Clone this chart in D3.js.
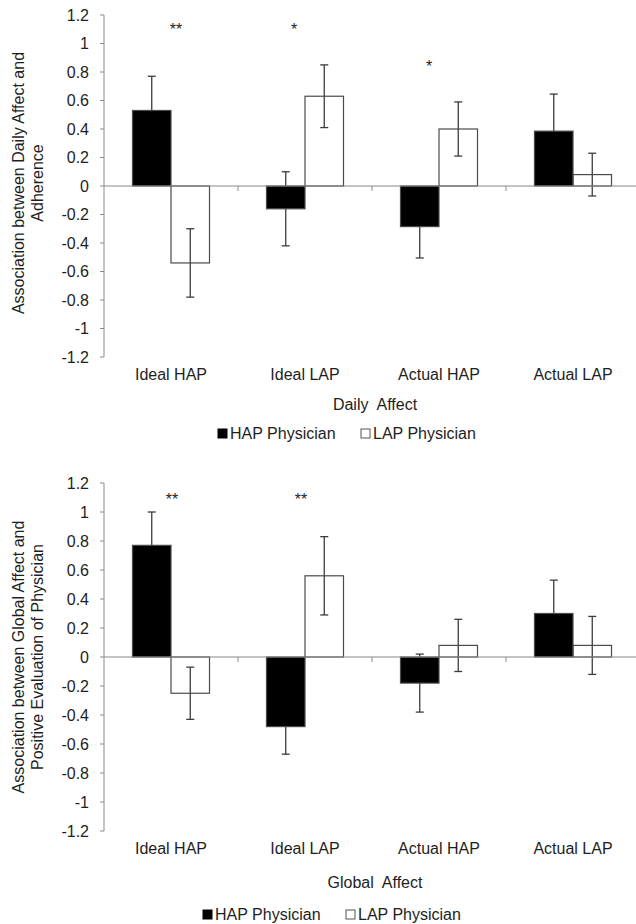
<!DOCTYPE html>
<html>
<head>
<meta charset="utf-8">
<script src="https://cdn.jsdelivr.net/npm/d3@7"></script>
<style>
  body { margin: 0; background: #fff; }
  text { font-family: 'Liberation Sans', Arial, sans-serif; fill: #1e1e1e; }
</style>
</head>
<body>
<div id="app"></div>
<script>
// values
const categories = ['Ideal HAP', 'Ideal LAP', 'Actual HAP', 'Actual LAP'];
const seriesNames = ['HAP Physician', 'LAP Physician'];
const yTicks = [1.2, 1, 0.8, 0.6, 0.4, 0.2, 0, -0.2, -0.4, -0.6, -0.8, -1, -1.2];

const dailyHap = [0.53, -0.16, -0.285, 0.385];
const dailyHapErr = [0.24, 0.26, 0.22, 0.26];
const dailyLap = [-0.54, 0.63, 0.40, 0.08];
const dailyLapErr = [0.24, 0.22, 0.19, 0.15];
const dailyStars = ['**', '*', '*', ''];
const dailyStarLevel = [1.12, 1.12, 0.86, null];

const globalHap = [0.77, -0.48, -0.18, 0.30];
const globalHapErr = [0.23, 0.19, 0.20, 0.23];
const globalLap = [-0.25, 0.56, 0.08, 0.08];
const globalLapErr = [0.18, 0.27, 0.18, 0.20];
const globalStars = ['**', '**', '', ''];
const globalStarLevel = [1.11, 1.11, null, null];

const svg = d3.select('#app').append('svg')
    .attr('width', 636)
    .attr('height', 924);

const axisColor = '#8a8a8a';
const barStroke = '#4a4a4a';
const errColor = '#3c3c3c';

const x = d3.scaleBand()
    .domain(categories)
    .range([104, 640])
    .paddingInner(0)
    .paddingOuter(0);

const xSub = d3.scaleBand()
    .domain(seriesNames)
    .range([0, x.bandwidth()])
    .paddingInner(0)
    .paddingOuter(0.74);

function drawPanel(p) {
  const y = d3.scaleLinear().domain([-1.2, 1.2]).range([p.bottom, p.top]);
  const g = svg.append('g');

  const rows = categories.map((c, i) => ({
    cat: c,
    bars: [
      { key: seriesNames[0], value: p.hap[i], err: p.hapErr[i], cat: c },
      { key: seriesNames[1], value: p.lap[i], err: p.lapErr[i], cat: c }
    ]
  }));

  // y axis
  g.append('line')
      .attr('x1', x.range()[0]).attr('x2', x.range()[0])
      .attr('y1', y(1.2)).attr('y2', y(-1.2))
      .attr('stroke', axisColor).attr('stroke-width', 1);

  const yAxis = g.append('g')
      .attr('transform', `translate(${x.range()[0]},0)`);
  yAxis.selectAll('line')
    .data(yTicks)
    .enter().append('line')
      .attr('x1', -4).attr('x2', 0)
      .attr('y1', d => y(d)).attr('y2', d => y(d))
      .attr('stroke', axisColor);
  yAxis.selectAll('text')
    .data(yTicks)
    .enter().append('text')
      .attr('x', -15)
      .attr('y', d => y(d))
      .attr('dy', '0.36em')
      .attr('text-anchor', 'end')
      .attr('font-size', 16)
      .text(d => d3.format('')(d).replace('\u2212', '-'));

  const grp = g.selectAll('.cat')
    .data(rows)
    .enter().append('g')
      .attr('class', 'cat')
      .attr('transform', d => `translate(${x(d.cat)},0)`);

  // error bars first, so black bars hide their inner half
  const eb = grp.selectAll('.err')
    .data(d => d.bars)
    .enter().append('g')
      .attr('class', 'err')
      .attr('transform', d => `translate(${xSub(d.key) + xSub.bandwidth() / 2},0)`)
      .attr('stroke', errColor)
      .attr('stroke-width', 1.3);
  eb.append('line')
      .attr('y1', d => y(d.value - d.err)).attr('y2', d => y(d.value + d.err));
  eb.append('line')
      .attr('x1', -4).attr('x2', 4)
      .attr('y1', d => y(d.value + d.err)).attr('y2', d => y(d.value + d.err));
  eb.append('line')
      .attr('x1', -4).attr('x2', 4)
      .attr('y1', d => y(d.value - d.err)).attr('y2', d => y(d.value - d.err));

  // bars (LAP bars are hollow)
  grp.selectAll('rect')
    .data(d => d.bars)
    .enter().append('rect')
      .attr('x', d => xSub(d.key))
      .attr('y', d => y(Math.max(0, d.value)))
      .attr('width', xSub.bandwidth())
      .attr('height', d => Math.abs(y(d.value) - y(0)))
      .attr('fill', d => d.key === seriesNames[0] ? '#000' : 'none')
      .attr('stroke', barStroke)
      .attr('stroke-width', 1.2);

  // zero line + category ticks
  g.append('line')
      .attr('x1', x.range()[0]).attr('x2', 636)
      .attr('y1', y(0)).attr('y2', y(0))
      .attr('stroke', axisColor).attr('stroke-width', 1.2);

  g.selectAll('.xtick')
    .data(categories.slice(1))
    .enter().append('line')
      .attr('class', 'xtick')
      .attr('x1', d => x(d)).attr('x2', d => x(d))
      .attr('y1', y(0)).attr('y2', y(0) + 5)
      .attr('stroke', axisColor);

  // significance stars (hand-placed in the original, hence the nudges)
  g.selectAll('.star')
    .data(categories.map((c, i) => ({ cat: c, s: p.stars[i], lv: p.starLevel[i], dx: p.starNudge[i] })).filter(d => d.s))
    .enter().append('text')
      .attr('class', 'star')
      .attr('x', d => x(d.cat) + x.bandwidth() / 2 + d.dx)
      .attr('y', d => y(d.lv))
      .attr('dy', '0.55em')
      .attr('text-anchor', 'middle')
      .attr('font-size', 16)
      .text(d => d.s);

  // category labels
  g.selectAll('.xlab')
    .data(categories)
    .enter().append('text')
      .attr('class', 'xlab')
      .attr('x', d => x(d) + x.bandwidth() / 2)
      .attr('y', y(-1.2) + 23)
      .attr('text-anchor', 'middle')
      .attr('font-size', 16)
      .text(d => d);

  // axis titles
  g.append('text')
      .attr('x', 375)
      .attr('y', p.xTitleY)
      .attr('text-anchor', 'middle')
      .attr('font-size', 16)
      .style('white-space', 'pre')
      .text(p.xTitle);

  const cy = (y(1.2) + y(-1.2)) / 2 + p.yTitleShift;
  g.append('text')
      .attr('transform', `translate(24,${cy}) rotate(-90)`)
      .attr('text-anchor', 'middle')
      .attr('font-size', 16)
      .text(p.yTitle[0]);
  g.append('text')
      .attr('transform', `translate(43,${cy}) rotate(-90)`)
      .attr('text-anchor', 'middle')
      .attr('font-size', 16)
      .text(p.yTitle[1]);

  // legend
  const legend = g.selectAll('.legend')
    .data(seriesNames)
    .enter().append('g')
      .attr('class', 'legend')
      .attr('transform', (d, i) => `translate(${p.legendX + i * 143},${p.legendY})`);
  legend.append('rect')
      .attr('x', 0).attr('y', -10)
      .attr('width', 9).attr('height', 9)
      .attr('fill', (d, i) => i === 0 ? '#000' : '#fff')
      .attr('stroke', (d, i) => i === 0 ? '#000' : '#555');
  legend.append('text')
      .attr('x', 12)
      .attr('y', 0)
      .attr('font-size', 16)
      .text(d => d);
}

drawPanel({
  top: 15, bottom: 357,
  hap: dailyHap, hapErr: dailyHapErr,
  lap: dailyLap, lapErr: dailyLapErr,
  stars: dailyStars, starLevel: dailyStarLevel, starNudge: [5, -11, -10, 0],
  xTitle: 'Daily  Affect', xTitleY: 410,
  yTitle: ['Association between Daily Affect and', 'Adherence'], yTitleShift: -3,
  legendX: 218, legendY: 439
});

drawPanel({
  top: 483, bottom: 831,
  hap: globalHap, hapErr: globalHapErr,
  lap: globalLap, lapErr: globalLapErr,
  stars: globalStars, starLevel: globalStarLevel, starNudge: [1, -4, 0, 0],
  xTitle: 'Global  Affect', xTitleY: 888,
  yTitle: ['Association between Global Affect and', 'Positive Evaluation of Physician'], yTitleShift: 0,
  legendX: 203, legendY: 920
});
</script>
</body>
</html>
